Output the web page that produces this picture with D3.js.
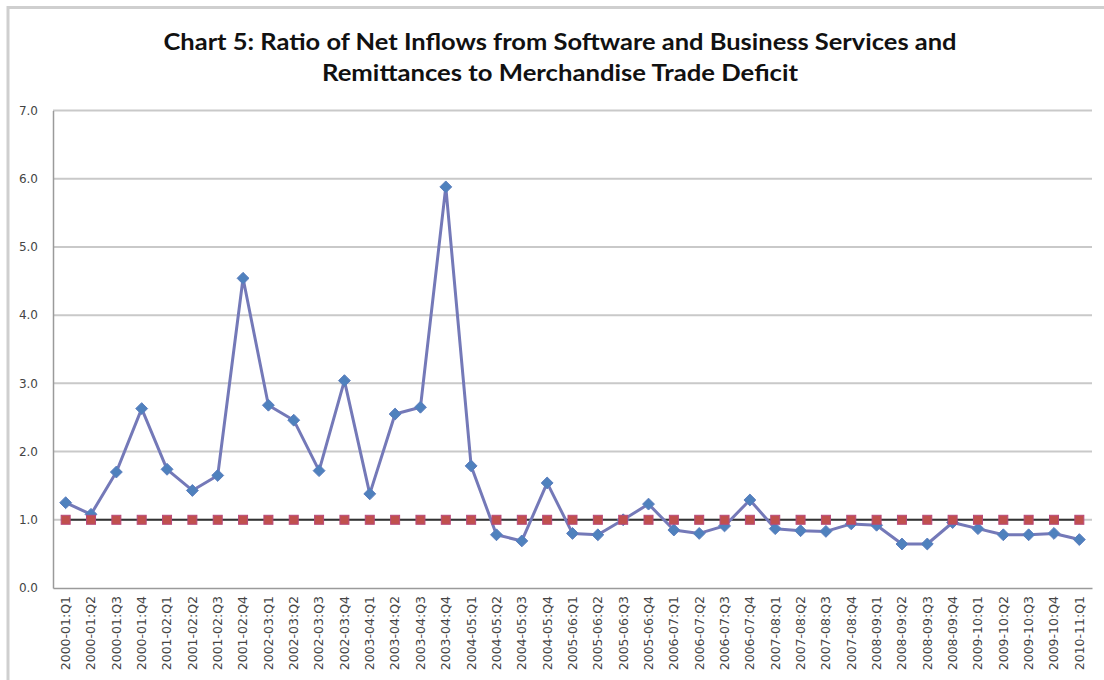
<!DOCTYPE html>
<html><head><meta charset="utf-8">
<script src="https://cdn.jsdelivr.net/npm/d3@7"></script>
<style>body{margin:0;background:#fff}svg{display:block}</style>
</head><body>
<svg id="c" width="1104" height="680"></svg>
<script>
const categories = [
 "2000-01:Q1","2000-01:Q2","2000-01:Q3","2000-01:Q4",
 "2001-02:Q1","2001-02:Q2","2001-02:Q3","2001-02:Q4",
 "2002-03:Q1","2002-03:Q2","2002-03:Q3","2002-03:Q4",
 "2003-04:Q1","2003-04:Q2","2003-04:Q3","2003-04:Q4",
 "2004-05:Q1","2004-05:Q2","2004-05:Q3","2004-05:Q4",
 "2005-06:Q1","2005-06:Q2","2005-06:Q3","2005-06:Q4",
 "2006-07:Q1","2006-07:Q2","2006-07:Q3","2006-07:Q4",
 "2007-08:Q1","2007-08:Q2","2007-08:Q3","2007-08:Q4",
 "2008-09:Q1","2008-09:Q2","2008-09:Q3","2008-09:Q4",
 "2009-10:Q1","2009-10:Q2","2009-10:Q3","2009-10:Q4",
 "2010-11:Q1"];
const ratio = [1.25,1.08,1.70,2.63,1.74,1.43,1.65,4.54,2.68,2.46,1.72,3.04,1.38,2.55,2.65,5.88,
 1.79,0.78,0.69,1.54,0.80,0.78,1.00,1.23,0.85,0.80,0.91,1.29,0.87,0.84,0.83,0.94,0.92,0.645,0.645,0.96,
 0.87,0.78,0.78,0.80,0.71];
const reference = categories.map(() => 1.0);
const yTicks = [0,1,2,3,4,5,6,7];
const titleLines = ["Chart 5: Ratio of Net Inflows from Software and Business Services and",
                    "Remittances to Merchandise Trade Deficit"];

const svg = d3.select("#c");
svg.append("rect").attr("x",8).attr("y",7.5).attr("width",1200).attr("height",800)
  .attr("fill","none").attr("stroke","#cfcfcf").attr("stroke-width",3);

const L=53, R=1092, T=110.5, B=588;
const x = d3.scaleBand().domain(categories).range([L,R]);
const y = d3.scaleLinear().domain([0,7]).range([B,T]);
const cx = d => x(d) + x.bandwidth()/2;

svg.append("g").selectAll("line").data(yTicks.filter(d=>d>0)).join("line")
  .attr("x1",L).attr("x2",R).attr("y1",d=>y(d)).attr("y2",d=>y(d))
  .attr("stroke","#c9c9c9").attr("stroke-width",2);

const ya = svg.append("g").attr("transform",`translate(${L},0)`)
  .call(d3.axisLeft(y).tickValues(yTicks).tickFormat(d3.format(".1f")).tickSize(0).tickPadding(15));
ya.select(".domain").attr("stroke","#9a9a9a").attr("stroke-width",1.5);
ya.selectAll("text").attr("font-family","DejaVu Sans, sans-serif").attr("font-size",12).attr("fill","#444");

const xa = svg.append("g").attr("transform",`translate(0,${B})`)
  .call(d3.axisBottom(x).tickSize(0).tickPadding(0));
xa.select(".domain").attr("stroke","#9a9a9a").attr("stroke-width",1.5);
xa.selectAll("text").attr("font-family","DejaVu Sans, sans-serif").attr("font-size",12.5).attr("fill","#444")
  .attr("text-anchor","end").attr("transform","translate(0,8) rotate(-90)").attr("dy","0.35em").attr("dx","0").attr("y",0).attr("x",0);

svg.append("path").datum(reference)
  .attr("d", d3.line().x((d,i)=>cx(categories[i])).y(d=>y(d)))
  .attr("fill","none").attr("stroke","#333").attr("stroke-width",2);

svg.append("path").datum(ratio)
  .attr("d", d3.line().x((d,i)=>cx(categories[i])).y(d=>y(d)))
  .attr("fill","none").attr("stroke","#7479b8").attr("stroke-width",3).attr("stroke-linejoin","round");

svg.append("g").selectAll("path").data(ratio).join("path")
  .attr("d", d3.symbol(d3.symbolDiamond2, 90)())
  .attr("transform",(d,i)=>`translate(${cx(categories[i])},${y(d)})`)
  .attr("fill","#4f81bd").attr("stroke","#5d7fbf").attr("stroke-width",1);

svg.append("g").selectAll("rect").data(reference).join("rect")
  .attr("x",(d,i)=>cx(categories[i])-4.5).attr("y",d=>y(d)-4.5)
  .attr("width",9).attr("height",9)
  .attr("fill","#c0504d").attr("stroke","#b8497a").attr("stroke-width",1);

const tw = [793, 476];
svg.append("g").selectAll("text").data(titleLines).join("text")
  .attr("x",560).attr("y",(d,i)=>i===0?50:81)
  .attr("text-anchor","middle")
  .attr("font-family","Lato, 'Open Sans', sans-serif").attr("font-weight","bold").attr("font-size",23)
  .attr("fill","#111")
  .attr("textLength",(d,i)=>tw[i]).attr("lengthAdjust","spacingAndGlyphs")
  .text(d=>d);
</script>
</body></html>
